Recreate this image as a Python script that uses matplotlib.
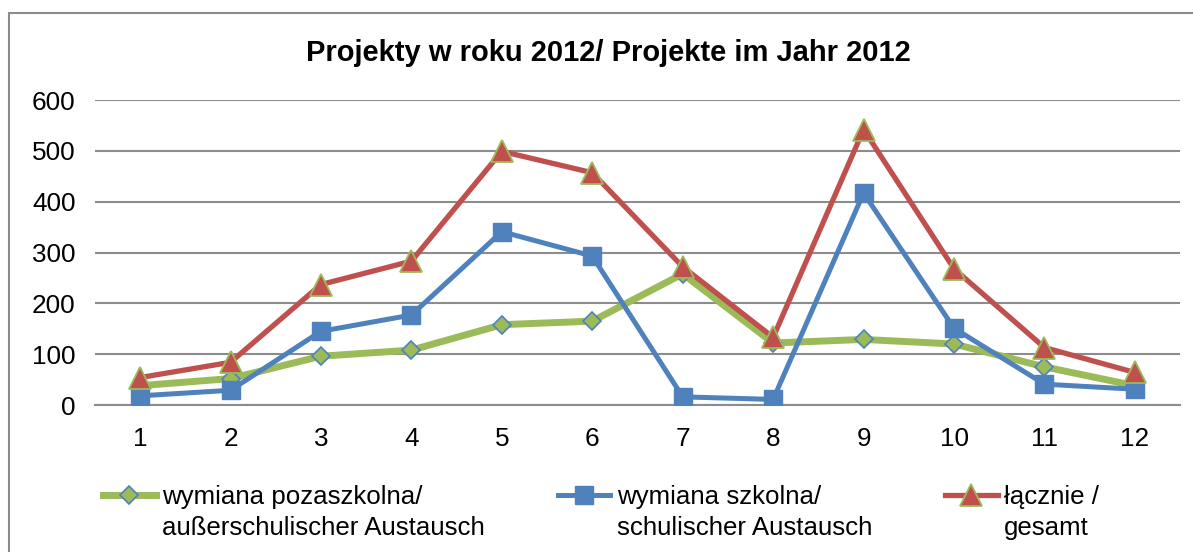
import matplotlib.pyplot as plt
from matplotlib.patches import Rectangle

months = [1, 2, 3, 4, 5, 6, 7, 8, 9, 10, 11, 12]
pozaszkolna = [38, 52, 96, 108, 158, 165, 258, 122, 129, 120, 75, 38]
szkolna = [18, 29, 145, 177, 341, 293, 16, 11, 417, 151, 41, 31]
lacznie = [54, 84, 237, 283, 499, 457, 272, 133, 542, 268, 113, 64]

labels = ["wymiana pozaszkolna/\nau\u00dferschulischer Austausch",
          "wymiana szkolna/\nschulischer Austausch",
          "\u0142\u0105cznie /\ngesamt"]
title = "Projekty w roku 2012/ Projekte im Jahr 2012"

green = "#9BBB59"
blue = "#4F81BD"
red = "#C0504D"
grid_col = "#8C8C8C"

plt.rcParams["font.family"] = ["Liberation Sans", "DejaVu Sans"]

fig = plt.figure(figsize=(11.93, 5.52), dpi=100)
ax = fig.add_axes([0.0795, 0.2663, 0.9097, 0.5525])

# outer chart border (right and bottom sides are cut off in the original)
fig.patches.append(Rectangle((9 / 1193, -0.2), 1.2, 1.2 - 13 / 552,
                             transform=fig.transFigure, fill=False,
                             edgecolor=grid_col, linewidth=1.5))

ax.plot(months, pozaszkolna, color=green, linewidth=5, marker="D",
        markersize=9, markerfacecolor=green, markeredgecolor=blue,
        markeredgewidth=1.2, label=labels[0], zorder=3)
ax.plot(months, szkolna, color=blue, linewidth=3.6, marker="s",
        markersize=13, markerfacecolor=blue, markeredgecolor=blue,
        label=labels[1], zorder=4)
ax.plot(months, lacznie, color=red, linewidth=3.8, marker="^",
        markersize=16, markerfacecolor=red, markeredgecolor=green,
        markeredgewidth=1.3, label=labels[2], zorder=5)

ax.set_xlim(0.5, 12.5)
ax.set_ylim(0, 600)
ax.set_xticks(months)
ax.set_yticks(range(0, 601, 100))
ax.grid(axis="y", color=grid_col, linewidth=1.5)
ax.set_axisbelow(True)
for side in ["top", "right", "left"]:
    ax.spines[side].set_visible(False)
ax.spines["bottom"].set_color(grid_col)
ax.spines["bottom"].set_linewidth(1.5)
ax.tick_params(axis="both", length=0, labelsize=18.8, colors="black")
ax.tick_params(axis="y", pad=14)
ax.tick_params(axis="x", pad=16)

fig.text(0.51, 0.904, title, ha="center", va="center",
         fontsize=21, fontweight="bold")

leg = fig.legend(loc="upper left", bbox_to_anchor=(103 / 1193, 1 - 485 / 552),
                 ncol=3, frameon=False, fontsize=18.6, borderpad=0,
                 borderaxespad=0, handlelength=2.05, handletextpad=0.25,
                 columnspacing=2.8)
for t in leg.get_texts():
    t.set_linespacing(1.36)
# put the legend keys next to the first text line, as in the original
for h in leg.legend_handles:
    h.set_ydata([y + 13 for y in h.get_ydata()])

fig.savefig("out.png", dpi=100)
